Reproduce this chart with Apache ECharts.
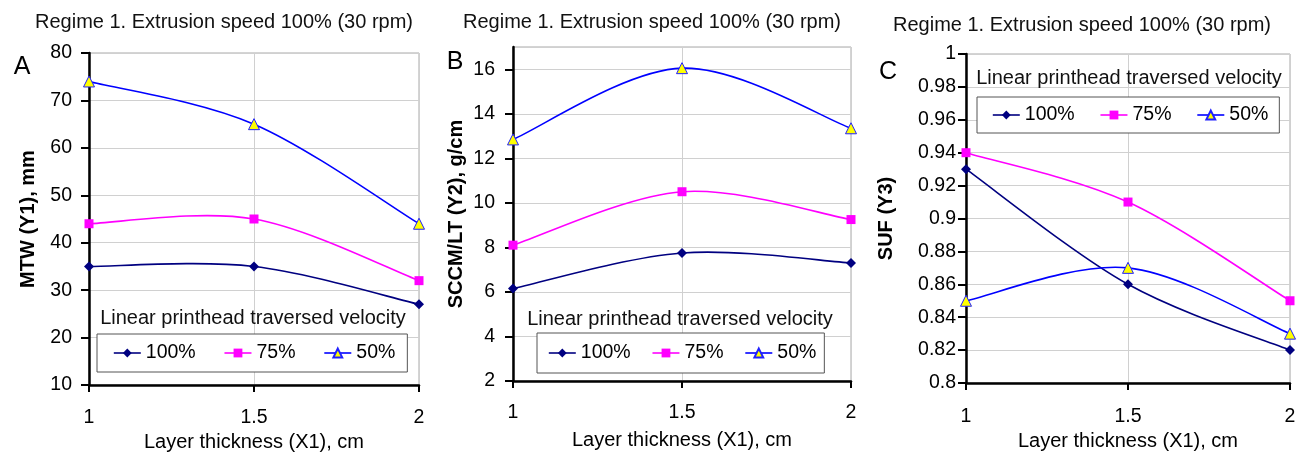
<!DOCTYPE html>
<html>
<head>
<meta charset="utf-8">
<script src="https://cdn.jsdelivr.net/npm/echarts@6/dist/echarts.min.js"></script>
<style>
html,body{margin:0;padding:0;background:#fff;}
#chart{width:1298px;height:452px;}
</style>
</head>
<body>
<div id="chart"></div>
<script>
// ---- data ----
const layerThickness = [1, 1.5, 2];
const seriesNames = ['100%', '75%', '50%'];
const mtw100 = [35, 35, 27];
const mtw75 = [44, 45, 32];
const mtw50 = [74, 65, 44];
const sccm100 = [6.15, 7.75, 7.3];
const sccm75 = [8.1, 10.5, 9.25];
const sccm50 = [12.85, 16.05, 13.35];
const suf100 = [0.93, 0.86, 0.82];
const suf75 = [0.94, 0.91, 0.85];
const suf50 = [0.85, 0.87, 0.83];
const panelTitle = 'Regime 1. Extrusion speed 100% (30 rpm)';
const legendHeading = 'Linear printhead traversed velocity';
const xName = 'Layer thickness (X1), cm';
const yNames = ['MTW (Y1), mm', 'SCCM/LT (Y2), g/cm', 'SUF (Y3)'];
const panelLetters = ['A', 'B', 'C'];

const FONT = "'Liberation Sans', Arial, sans-serif";
const chart = echarts.init(document.getElementById('chart'));

const grids = [
  {left: 89, top: 53, width: 330, height: 332},
  {left: 513, top: 47, width: 338, height: 334},
  {left: 966, top: 54, width: 324, height: 329}
];
grids.forEach(g => {
  g.show = true; g.borderColor = '#a8a8a8'; g.borderWidth = 1;
  g.containLabel = false; g.outerBoundsMode = 'none';
});

const yRanges = [
  {min: 10, max: 80, interval: 10, margin: 17, nameGap: 51},
  {min: 2, max: 17, interval: 2, margin: 18, nameGap: 47},
  {min: 0.8, max: 1, interval: 0.02, margin: 10, nameGap: 70}
];
const xLabelMargins = [23, 22, 24];
const xNameGaps = [45, 49, 45];

const xAxes = grids.map((g, i) => ({
  type: 'value', gridIndex: i, min: 1, max: 2, interval: 0.5,
  name: xName, nameLocation: 'middle', nameGap: xNameGaps[i],
  nameTextStyle: {fontFamily: FONT, fontSize: 20, color: '#000'},
  axisLine: {show: true, lineStyle: {color: '#000', width: 2.5}},
  axisTick: {show: true, length: 7, lineStyle: {color: '#000', width: 2}},
  axisLabel: {margin: xLabelMargins[i], fontFamily: FONT, fontSize: 19.5, color: '#000'},
  splitLine: {show: true, lineStyle: {color: '#d0d0d0', width: 1}}
}));

const yAxes = yRanges.map((r, i) => ({
  type: 'value', gridIndex: i, min: r.min, max: r.max, interval: r.interval,
  name: yNames[i], nameLocation: 'middle', nameGap: r.nameGap,
  nameTextStyle: {fontFamily: FONT, fontSize: 20, fontWeight: 'bold', color: '#000'},
  axisLine: {show: true, lineStyle: {color: '#000', width: 2.5}},
  axisTick: {show: true, length: 8, lineStyle: {color: '#000', width: 2}},
  axisLabel: {margin: r.margin, fontFamily: FONT, fontSize: 19.5, color: '#000', showMaxLabel: i !== 1},
  splitLine: {show: true, lineStyle: {color: '#d0d0d0', width: 1}}
}));

const panelData = [
  [mtw100, mtw75, mtw50],
  [sccm100, sccm75, sccm50],
  [suf100, suf75, suf50]
];

function pairs(vals) { return layerThickness.map((x, k) => [x, vals[k]]); }

const lineColors = ['#000080', '#ff00ff', '#0000ff'];
const markerStyles = [
  {symbol: 'diamond', symbolSize: 10, itemStyle: {color: '#000080'}},
  {symbol: 'rect', symbolSize: 9, itemStyle: {color: '#ff00ff'}},
  {symbol: 'triangle', symbolSize: 11, itemStyle: {color: '#ffff00', borderColor: '#2020ff', borderWidth: 1}}
];

// Excel-style smoothed line (Catmull-Rom bezier) drawn in pixel space via the axes
function makeSmoothRenderer(color) {
  return function (params, api) {
    if (params.dataIndexInside !== 0) return null;
    const n = params.dataInsideLength;
    const pts = [];
    for (let k = 0; k < n; k++) pts.push(api.coord([api.value(0, k), api.value(1, k)]));
    const children = [];
    for (let k = 0; k < n - 1; k++) {
      const p0 = pts[Math.max(k - 1, 0)], p1 = pts[k], p2 = pts[k + 1], p3 = pts[Math.min(k + 2, n - 1)];
      children.push({
        type: 'bezierCurve',
        shape: {
          x1: p1[0], y1: p1[1], x2: p2[0], y2: p2[1],
          cpx1: p1[0] + (p2[0] - p0[0]) / 6, cpy1: p1[1] + (p2[1] - p0[1]) / 6,
          cpx2: p2[0] - (p3[0] - p1[0]) / 6, cpy2: p2[1] - (p3[1] - p1[1]) / 6
        },
        style: {stroke: color, lineWidth: 1.6, fill: 'none'}
      });
    }
    return {type: 'group', children: children};
  };
}

const series = [];
panelData.forEach((sets, i) => {
  sets.forEach((vals, j) => {
    series.push({
      type: 'custom', name: 'curve ' + seriesNames[j], xAxisIndex: i, yAxisIndex: i,
      coordinateSystem: 'cartesian2d', encode: {x: 0, y: 1},
      data: pairs(vals), renderItem: makeSmoothRenderer(lineColors[j]), silent: true, z: 2
    });
  });
  sets.forEach((vals, j) => {
    series.push(Object.assign({
      type: 'line', name: seriesNames[j], xAxisIndex: i, yAxisIndex: i,
      data: pairs(vals), showSymbol: true, silent: true, z: 3,
      lineStyle: {color: lineColors[j], width: 1.6, opacity: 0}
    }, JSON.parse(JSON.stringify(markerStyles[j]))));
  });
});

const legendItems = seriesNames.map((nm, j) => ({name: nm, lineStyle: {color: lineColors[j], width: 1.6, opacity: 1}}));
const legendBase = {
  data: legendItems, orient: 'horizontal', itemWidth: 27, itemHeight: 11,
  borderColor: '#555', borderWidth: 1, backgroundColor: '#fff',
  textStyle: {fontFamily: FONT, fontSize: 19.5, color: '#000'}, selectedMode: false
};
const legends = [
  Object.assign({}, legendBase, {left: 97, top: 334, padding: [9, 12, 9, 16], itemGap: 28}),
  Object.assign({}, legendBase, {left: 537, top: 333, padding: [10, 8, 10, 11], itemGap: 21}),
  Object.assign({}, legendBase, {left: 977, top: 97, padding: [8, 11, 8, 15], itemGap: 25})
];

const titleBase = {textAlign: 'center', padding: 0};
const titles = [
  {text: panelTitle, left: 224, top: 12},
  {text: panelTitle, left: 652, top: 12},
  {text: panelTitle, left: 1082, top: 15},
  {text: legendHeading, left: 253, top: 308},
  {text: legendHeading, left: 680, top: 309},
  {text: legendHeading, left: 1129, top: 68}
].map(t => Object.assign({}, titleBase, t, {textStyle: {fontFamily: FONT, fontSize: 20, fontWeight: 'normal', color: '#111'}}));
const letterPos = [[22, 55], [455, 50], [888, 60]];
panelLetters.forEach((L, i) => {
  titles.push(Object.assign({}, titleBase, {text: L, left: letterPos[i][0], top: letterPos[i][1],
    textStyle: {fontFamily: FONT, fontSize: 25, fontWeight: 'normal', color: '#000'}}));
});

chart.setOption({
  animation: false,
  backgroundColor: '#fff',
  title: titles,
  legend: legends,
  grid: grids,
  xAxis: xAxes,
  yAxis: yAxes,
  series: series
});
</script>
</body>
</html>
